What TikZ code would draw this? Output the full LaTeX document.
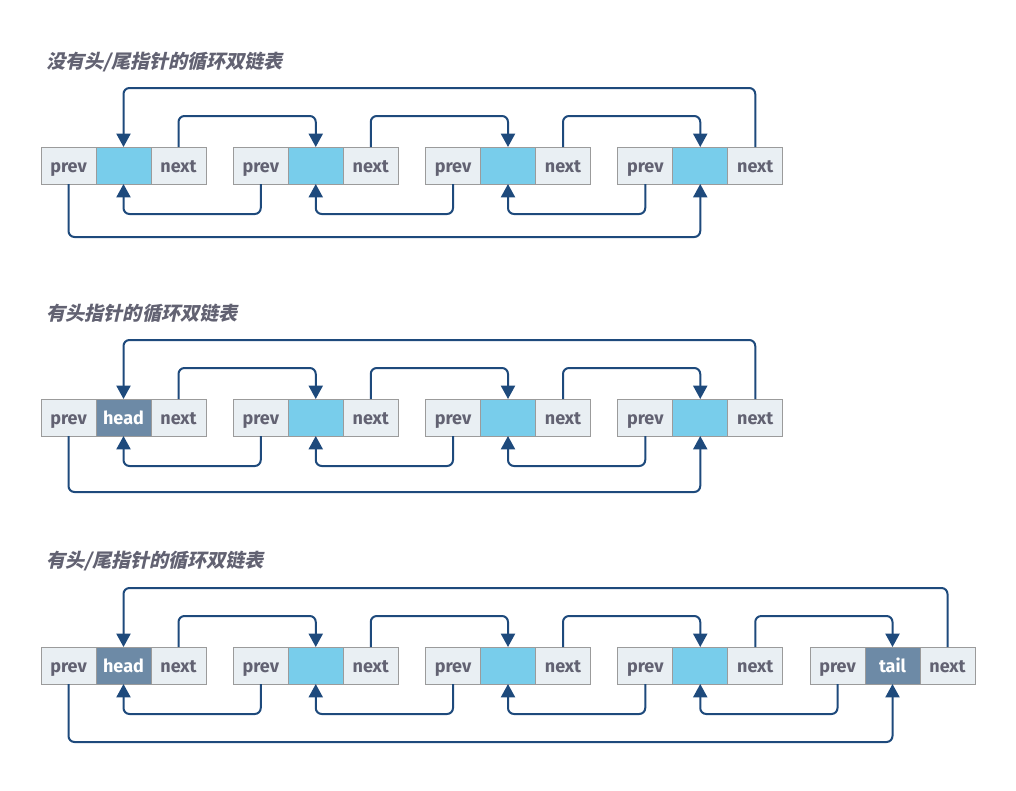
\documentclass[tikz,border=0pt]{standalone}
\usepackage{fontspec}
\setmainfont{Fira Sans}
\newfontfamily\cjk{Noto Sans CJK SC}[FakeSlant=0.22]
\usetikzlibrary{arrows.meta,positioning}
\definecolor{ListLine}{HTML}{1E4A7C}
\definecolor{ListFrame}{HTML}{9B9B9B}
\definecolor{ListCell}{HTML}{E9EFF3}
\definecolor{ListData}{HTML}{78CDEB}
\definecolor{ListEnd}{HTML}{6D8AA6}
\definecolor{ListText}{HTML}{626272}
\tikzset{
  cell/.style={draw=ListFrame,fill=ListCell,line width=0.75pt,outer sep=0pt,
    minimum width=41.25pt,minimum height=27.75pt,inner sep=0pt,
    text height=11.5pt,text depth=0.7pt,
    text=ListText,font=\fontsize{13.5}{15}\selectfont\bfseries},
  datacell/.style={cell,fill=ListData},
  endcell/.style={cell,fill=ListEnd,text=white},
  link/.style={ListLine,line width=1.5pt,rounded corners=4.5pt,
    -{Triangle[length=10pt,width=10.5pt]}},
  caption/.style={anchor=west,text=ListText,
    font=\cjk\fontsize{14.3}{17}\selectfont\bfseries}
}

\begin{document}
\begin{tikzpicture}[x=0.75pt,y=-0.75pt]
  \useasboundingbox (0,0) rectangle (1016,790);

  % row 1: no head / tail
  \node[caption] (t1) at (42,62) {没有头/尾指针的循环双链表};
  \foreach \i in {1,...,4} {
    \node[cell] (r1p\i) at ({68.5+192.25*(\i-1)},165.5) {prev};
    \node[datacell,right=0pt of r1p\i] (r1d\i) {};
    \node[cell,right=0pt of r1d\i] (r1n\i) {next};
  }
  \foreach \i/\j in {1/2,2/3,3/4} {
    \draw[link] (r1n\i.north) -- ++(0,-31) -| (r1d\j.north);
    \draw[link] (r1p\j.south) -- ++(0,30) -| (r1d\i.south);
  }
  \draw[link] (r1n4.north) -- ++(0,-59) -| (r1d1.north);
  \draw[link] (r1p1.south) -- ++(0,53) -| (r1d4.south);

  % row 2: head pointer
  \node[caption] (t2) at (42,313) {有头指针的循环双链表};
  \foreach \i/\sty/\txt in {1/endcell/head,2/datacell/,3/datacell/,4/datacell/} {
    \node[cell] (r2p\i) at ({68.5+192.25*(\i-1)},417.5) {prev};
    \node[\sty,right=0pt of r2p\i] (r2d\i) {\txt};
    \node[cell,right=0pt of r2d\i] (r2n\i) {next};
  }
  \foreach \i/\j in {1/2,2/3,3/4} {
    \draw[link] (r2n\i.north) -- ++(0,-31) -| (r2d\j.north);
    \draw[link] (r2p\j.south) -- ++(0,30) -| (r2d\i.south);
  }
  \draw[link] (r2n4.north) -- ++(0,-59) -| (r2d1.north);
  \draw[link] (r2p1.south) -- ++(0,56) -| (r2d4.south);

  % row 3: head and tail pointers
  \node[caption] (t3) at (42,561) {有头/尾指针的循环双链表};
  \foreach \i/\sty/\txt in {1/endcell/head,2/datacell/,3/datacell/,4/datacell/,5/endcell/tail} {
    \node[cell] (r3p\i) at ({68.5+192.25*(\i-1)},665.5) {prev};
    \node[\sty,right=0pt of r3p\i] (r3d\i) {\txt};
    \node[cell,right=0pt of r3d\i] (r3n\i) {next};
  }
  \foreach \i/\j in {1/2,2/3,3/4,4/5} {
    \draw[link] (r3n\i.north) -- ++(0,-31) -| (r3d\j.north);
    \draw[link] (r3p\j.south) -- ++(0,30) -| (r3d\i.south);
  }
  \draw[link] (r3n5.north) -- ++(0,-59) -| (r3d1.north);
  \draw[link] (r3p1.south) -- ++(0,58) -| (r3d5.south);
\end{tikzpicture}
\end{document}
